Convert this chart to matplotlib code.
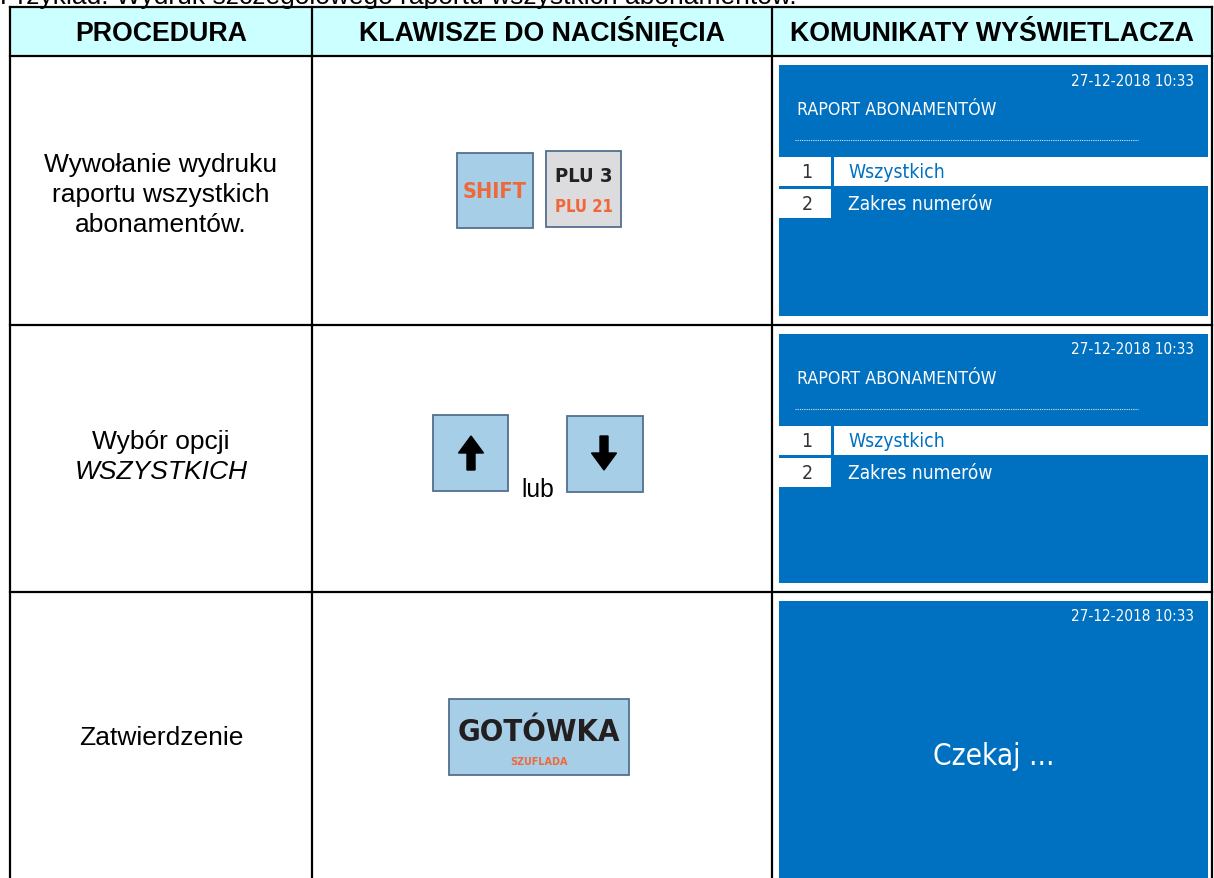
import matplotlib.pyplot as plt
from matplotlib import font_manager as fm
from matplotlib.patches import Rectangle, FancyArrow

# ---- content of the table ----
caption = "Przykład: Wydruk szczegółowego raportu wszystkich abonamentów."
headers = ["PROCEDURA", "KLAWISZE DO NACIŚNIĘCIA", "KOMUNIKATY WYŚWIETLACZA"]
procedures = [
    ["Wywołanie wydruku", "raportu wszystkich", "abonamentów."],
    ["Wybór opcji", "WSZYSTKICH"],
    ["Zatwierdzenie"],
]
procedure_italic = [[False, False, False], [False, True], [False]]
display_time = "27-12-2018 10:33"
display_title = "RAPORT ABONAMENTÓW"
menu_numbers = ["1", "2"]
menu_items = ["Wszystkich", "Zakres numerów"]
selected_item = 0
wait_text = "Czekaj ..."
shift_label = "SHIFT"
plu_labels = ["PLU 3", "PLU 21"]
or_word = "lub"
cash_labels = ["GOTÓWKA", "SZUFLADA"]

# ---- layout (pixels) ----
W, H = 1214, 879
col_x = [10, 312, 772, 1212]
row_y = [8, 57, 326, 593, 890]
proc_center_y = [195, 457, 738]

BLUE = "#0070C0"
KEY_FILL = "#A6CFE7"
KEY_EDGE = "#53708E"
ORANGE = "#F0683A"
BODY = ["Liberation Sans", "DejaVu Sans"]


def pick_narrow(bold):
    # look for a condensed / narrow face, else fall back to Liberation Sans
    found = []
    for f in fm.fontManager.ttflist:
        nm = f.name.lower()
        narrow = "narrow" in nm or "condensed" in nm or "condensed" in str(f.stretch)
        if not narrow or f.style != "normal":
            continue
        w = f.weight if isinstance(f.weight, int) else fm.weight_dict.get(f.weight, 400)
        if (w >= 600) != bold:
            continue
        rank = 0 if "dejavu" in nm else 1 if "liberation" in nm else 2
        found.append((rank, f.fname))
    if found:
        return fm.FontProperties(fname=sorted(found)[0][1])
    return fm.FontProperties(family=BODY, weight="bold" if bold else "normal")


NARROW = pick_narrow(False)
NARROW_B = pick_narrow(True)

fig = plt.figure(figsize=(W / 100, H / 100), dpi=100)
ax = fig.add_axes([0, 0, 1, 1])
ax.set_xlim(0, W)
ax.set_ylim(H, 0)
ax.axis("off")

to_fit = []  # (text, target width in px)


def label(x, y, s, size, width=None, bold=False, narrow=True, **kw):
    if narrow:
        kw["fontproperties"] = NARROW_B if bold else NARROW
    else:
        kw["family"] = BODY
        if bold:
            kw["fontweight"] = "bold"
    t = ax.text(x, y, s, fontsize=size, zorder=4, **kw)
    if width:
        to_fit.append((t, width))
    return t


# caption cut by the top edge, like in the source page
label(0, 4, caption, 19, narrow=False, va="baseline", ha="left")

# header background and grid
ax.add_patch(Rectangle((col_x[0], row_y[0]), col_x[-1] - col_x[0], row_y[1] - row_y[0],
                       facecolor="#CCFFFF", edgecolor="none", zorder=0))
for y in row_y[:-1]:
    ax.plot([col_x[0], col_x[-1]], [y, y], color="black", lw=1.6, solid_capstyle="projecting")
for x in col_x:
    ax.plot([x, x], [row_y[0], row_y[-1]], color="black", lw=1.6, solid_capstyle="projecting")

header_texts = []
for i, h in enumerate(headers):
    header_texts.append(label((col_x[i] + col_x[i + 1]) / 2, 41, h, 19, bold=True,
                              narrow=False, ha="center", va="baseline"))

# procedure column
for r, lines in enumerate(procedures):
    n = len(lines)
    for k, line in enumerate(lines):
        label((col_x[0] + col_x[1]) / 2, proc_center_y[r] + (k - (n - 1) / 2) * 30, line,
              19, narrow=False, ha="center", va="center",
              style="italic" if procedure_italic[r][k] else "normal")


def key(x0, y0, w, h, fill=KEY_FILL):
    ax.add_patch(Rectangle((x0, y0), w, h, facecolor=fill, edgecolor=KEY_EDGE, lw=1.3, zorder=2))


# row 1 keys
key(457, 154, 76, 75)
label(495, 192, shift_label, 19, width=64, bold=True, color=ORANGE, ha="center", va="center")
key(546, 152, 75, 76, fill="#DCDCDE")
label(584, 176, plu_labels[0], 16, width=58, bold=True, color="#222222", ha="center", va="center")
label(584, 207, plu_labels[1], 13, width=58, bold=True, color=ORANGE, ha="center", va="center")

# row 2 keys
key(433, 416, 75, 76)
key(567, 417, 76, 76)
ax.add_patch(FancyArrow(471, 471, 0, -34, width=8, head_width=25, head_length=17,
                        length_includes_head=True, color="black", zorder=3))
ax.add_patch(FancyArrow(604, 437, 0, 34, width=8, head_width=25, head_length=17,
                        length_includes_head=True, color="black", zorder=3))
label(538, 490, or_word, 17, width=33, narrow=False, ha="center", va="center")

# row 3 key
key(449, 700, 180, 76)
label(539, 733, cash_labels[0], 22, width=162, bold=True, color="#231F20", ha="center", va="center")
label(539, 762, cash_labels[1], 9, width=58, bold=True, color=ORANGE, ha="center", va="center")

# display panels
px0, px1 = 779, 1208
for r in range(3):
    top = row_y[r + 1] + 9
    bottom = row_y[r + 2] - 9
    ax.add_patch(Rectangle((px0, top), px1 - px0, bottom - top, facecolor=BLUE,
                           edgecolor="none", zorder=1))
    label(1194, top + 15, display_time, 11, color="white", ha="right", va="center")
    if r < 2:
        label(797, top + 44, display_title, 14, width=200, color="white", ha="left", va="center")
        ax.plot([795, 1138], [top + 75, top + 75], color="#D5E6F5", lw=0.8,
                linestyle=(0, (1, 1)), zorder=3)
        item_w = [97, 146]
        for i, (num, item) in enumerate(zip(menu_numbers, menu_items)):
            y0 = top + 92 + i * 32
            ax.add_patch(Rectangle((px0, y0), 52, 29, facecolor="white",
                                   edgecolor="none", zorder=2))
            if i == selected_item:
                ax.add_patch(Rectangle((px0 + 55, y0), px1 - px0 - 55, 29,
                                       facecolor="white", edgecolor="none", zorder=2))
            label(807, y0 + 15, num, 14, color="#333333", ha="center", va="center")
            label(848, y0 + 15, item, 14, width=item_w[i],
                  color=BLUE if i == selected_item else "white", ha="left", va="center")
    else:
        label(994, 757, wait_text, 26, width=122, color="white", ha="center", va="center")

# scale each fitted text so its width matches the source
renderer = fig.canvas.get_renderer()
for t, target in to_fit:
    w = t.get_window_extent(renderer=renderer).width
    t.set_fontsize(t.get_fontsize() * target / w)

# headers share one size, set from the widest one
w = header_texts[2].get_window_extent(renderer=renderer).width
hsize = header_texts[2].get_fontsize() * 403 / w
for t in header_texts:
    t.set_fontsize(hsize)

fig.savefig("out.png", dpi=100)
